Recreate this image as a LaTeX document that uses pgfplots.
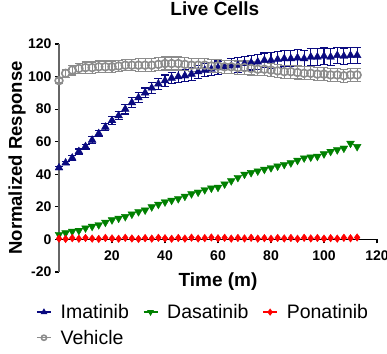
\documentclass[border=0pt]{standalone}
\usepackage{pgfplots}
\usepackage{pgfplotstable}
\pgfplotsset{compat=1.18}
\usepackage{fontspec}
\setmainfont{Liberation Sans}
\definecolor{imat}{RGB}{10,10,128}
\definecolor{dasa}{RGB}{0,128,0}
\definecolor{pona}{RGB}{255,0,0}
\definecolor{vehi}{RGB}{140,140,140}
\pgfplotstableread{
t imat ie das pon veh ve
0 44 1 3 0.5 97.5 1.5
2.5 47 1 4 0.3 102 2.5
5 50 1.5 5 0.8 104 3
7.5 54 1.5 5.5 0.4 105 3
10 57 1.5 7 0.9 105.5 3.5
12.5 61 2 8 0.5 105.5 3.5
15 65 2 9 0.3 106 3.5
17.5 69 2 10.5 0.9 106 3.5
20 73 2.5 12 0.6 106 3.5
22.5 76 2.5 13 0.4 106.5 3.5
25 80 3 14 1.0 107 3.5
27.5 84 3 15.5 0.6 107 3.5
30 87 3 17 0.3 107 4
32.5 90 3 18 0.8 107 4
35 93 3.5 20 0.5 107 4
37.5 95.5 3.5 21.5 1.0 107.5 4
40 97.5 3.5 23 0.7 108 4
42.5 99 3.5 24 0.4 108 4
45 100 3.5 25 0.9 108 4
47.5 100.5 3.5 26.5 0.5 107.5 4
50 101.5 4 28 1.1 107 4
52.5 103 4 29 0.6 107 4
55 104 4 30.5 0.8 107 4
57.5 104.5 4 31.5 1.2 106.5 4
60 105.5 4 32 0.7 106.5 4
62.5 106 4 34 1.0 106 4
65 106.5 4.5 36 0.5 106 4
67.5 107 4.5 38 0.9 105.5 4
70 108 4.5 40 0.6 105.5 4
72.5 108.5 4.5 41 1.0 105 4
75 109 4.5 42 0.5 104.5 4
77.5 110 4.5 43 0.8 104.5 4
80 110 5 44 0.4 104 4
82.5 110.5 5 45 0.9 103.5 4
85 111 5 46 0.6 103 4
87.5 111 5 47 0.9 103 4
90 111.5 5 48.5 0.4 102.5 4
92.5 111 5 50 1.0 102 4
95 112 5 50.5 0.6 102 4
97.5 112 5 51 0.9 101.5 4
100 112.5 5 52.5 0.5 101.5 4
102.5 112 5 54 0.8 101 4
105 113 5 55 0.5 101 4
107.5 112.5 5 56 1.0 100.5 4
110 113 5 59 0.7 101 4
112.5 113 5 57 1.2 101 4
}\datatable
\begin{document}
\begin{tikzpicture}
\useasboundingbox (-59pt,-81pt) rectangle (328pt,272pt);
\begin{axis}[
  at={(0,0)}, anchor=south west,
  scale only axis, width=318pt, height=228pt,
  xmin=0, xmax=120, ymin=-20, ymax=120,
  axis x line=middle, axis y line=left,
  x axis line style={-, line width=1.3pt, black},
  y axis line style={-, line width=1.3pt, black!60},
  xtick={20,40,60,80,100,120},
  ytick={-20,0,20,40,60,80,100,120},
  tick align=outside,
  major tick length=4pt,
  every tick/.style={black, line width=1.2pt},
  /pgf/number format/assume math mode=true,
  ticklabel style={font=\bfseries\fontsize{14}{14}\selectfont},
  xticklabel style={yshift=-4pt},
  xlabel={Time (m)},
  xlabel style={at={(axis description cs:0.5,0)}, anchor=north, yshift=3pt, font=\bfseries\fontsize{19}{19}\selectfont},
  ylabel={Normalized Response},
  ylabel style={at={(axis description cs:-0.132,0.5)}, anchor=center, rotate=0, font=\bfseries\fontsize{18.5}{18.5}\selectfont},
  every axis title shift=0pt,
  title={Live Cells},
  title style={at={(axis description cs:0.49,1.125)}, anchor=base, font=\bfseries\fontsize{19}{19}\selectfont},
  clip=false,
  legend columns=3,
  legend image code/.code={\draw[#1, sharp plot, line width=1.3pt, mark size=2.6pt, mark repeat=2, mark phase=2] plot coordinates {(0pt,0pt)(7pt,0pt)(14pt,0pt)};},
  legend style={draw=none, fill=none, at={(axis description cs:-0.072,-0.132)}, anchor=north west,
    font=\fontsize{19.5}{19.5}\selectfont,
    /tikz/every odd column/.append style={column sep=7pt},
    /tikz/every even column/.append style={column sep=12pt},
    row sep=6pt, inner sep=0pt},
  legend cell align=left,
]
\addplot[imat, only marks, mark=triangle*, mark size=4.5pt,
  error bars/.cd, y dir=both, y explicit,
  error bar style={line width=1.2pt, imat},
  error mark options={rotate=90, mark size=4pt, line width=1.2pt, imat}]
  table[x=t, y=imat, y error=ie] {\datatable};
\addlegendentry{Imatinib}
\addplot[dasa, only marks, mark=triangle*, mark size=4.5pt, mark options={rotate=180}]
  table[x=t, y=das] {\datatable};
\addlegendentry{Dasatinib}
\addplot[pona, only marks, mark=diamond*, mark size=3.8pt]
  table[x=t, y=pon] {\datatable};
\addlegendentry{Ponatinib}
\addplot[vehi, only marks, mark=o, mark size=3.9pt, mark options={line width=1.6pt},
  error bars/.cd, y dir=both, y explicit,
  error bar style={line width=1.2pt, vehi},
  error mark options={rotate=90, mark size=4pt, line width=1.2pt, vehi}]
  table[x=t, y=veh, y error=ve] {\datatable};
\addlegendentry{Vehicle}
\end{axis}
\end{tikzpicture}
\end{document}
